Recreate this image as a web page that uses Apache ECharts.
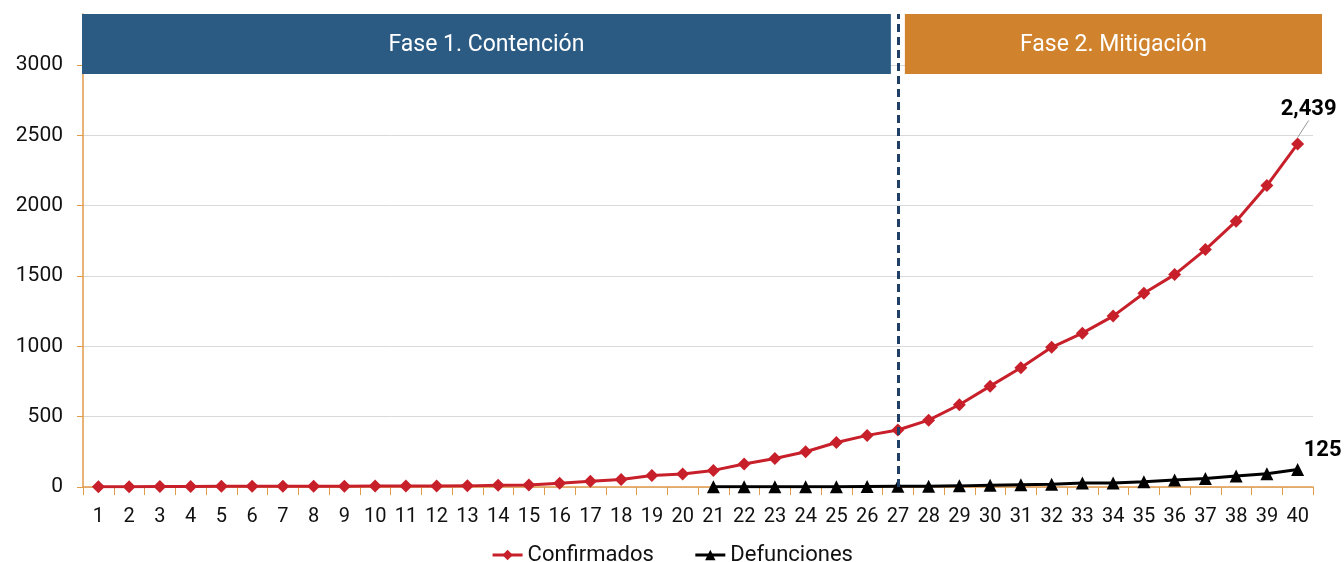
<!DOCTYPE html>
<html>
<head>
<meta charset="utf-8">
<script src="https://cdn.jsdelivr.net/npm/echarts@6/dist/echarts.min.js"></script>
<style>
  html, body { margin: 0; padding: 0; background: #fff; }
  #main { width: 1344px; height: 562px; }
</style>
</head>
<body>
<div id="main"></div>
<script>
var chartDom = document.getElementById('main');
var myChart = echarts.init(chartDom);

const days = [];
for (let d = 1; d <= 40; d++) days.push(String(d));

const confirmados = [1, 2, 4, 4, 5, 5, 5, 5, 6, 7, 7, 7, 8, 12, 15, 26, 41, 53, 82, 93,
  118, 164, 203, 251, 316, 367, 405, 475, 585, 717, 848, 993, 1094, 1215, 1378, 1510, 1688, 1890, 2143, 2439];
const defunciones = ['-', '-', '-', '-', '-', '-', '-', '-', '-', '-', '-', '-', '-', '-', '-', '-', '-', '-', '-', '-',
  1, 1, 2, 2, 2, 4, 5, 6, 8, 12, 16, 20, 28, 29, 37, 50, 60, 79, 94, 125];

const yTicks = [0, 500, 1000, 1500, 2000, 2500, 3000];
const phases = ['Fase 1. Contención', 'Fase 2. Mitigación'];
const phaseSplit = '27';

const redColor = '#C8202A';
const axisColor = '#E29A4B';
const FONT = 'Roboto, "DejaVu Sans", sans-serif';

function withLastLabel(values, label) {
  return values.map((v, i) => {
    if (i !== values.length - 1) return v;
    return { value: v, label: label };
  });
}

var option = {
  animation: false,
  textStyle: { fontFamily: FONT },
  grid: { left: 83, right: 31, top: 14, bottom: 75 },
  legend: {
    top: 539,
    left: 'center',
    itemWidth: 30,
    itemHeight: 13,
    itemGap: 40,
    lineStyle: { width: 3 },
    textStyle: { fontSize: 22, color: '#111', fontFamily: FONT },
    data: ['Confirmados', 'Defunciones']
  },
  xAxis: {
    type: 'category',
    data: days,
    axisLine: { lineStyle: { color: axisColor, width: 1.5 } },
    axisTick: { show: true, length: 8, lineStyle: { color: axisColor } },
    axisLabel: { fontSize: 20, color: '#111', margin: 20, interval: 0, fontFamily: FONT },
    splitLine: { show: false }
  },
  yAxis: {
    type: 'value',
    min: 0,
    max: 3363,
    interval: 500,
    axisLine: { show: true, lineStyle: { color: axisColor, width: 1.5 } },
    axisTick: { show: true, length: 6, customValues: yTicks, lineStyle: { color: axisColor } },
    axisLabel: {
      fontSize: 21, color: '#111', margin: 20, fontFamily: FONT,
      customValues: yTicks,
      formatter: v => String(v)
    },
    splitLine: { lineStyle: { color: '#D9D9D9', width: 1 } }
  },
  series: [
    {
      name: 'Confirmados',
      type: 'line',
      data: withLastLabel(confirmados, {
        show: true, position: 'top', distance: 17, offset: [11, 0],
        fontSize: 22, fontWeight: 'bold', color: '#000', fontFamily: FONT,
        formatter: p => p.value.toLocaleString('en-US')
      }),
      symbol: 'diamond',
      symbolSize: 13,
      itemStyle: { color: redColor },
      lineStyle: { color: redColor, width: 3 },
      labelLine: { show: true, lineStyle: { color: '#999', width: 1 } },
      z: 3,
      markLine: {
        silent: true,
        symbol: 'none',
        label: { show: false },
        lineStyle: { color: '#1F3F66', type: [8, 5], width: 3 },
        data: [{ xAxis: phaseSplit }]
      }
    },
    {
      name: 'Defunciones',
      type: 'line',
      data: withLastLabel(defunciones, {
        show: true, position: 'top', distance: 1, offset: [25, 0],
        fontSize: 22, fontWeight: 'bold', color: '#000', fontFamily: FONT
      }),
      symbol: 'triangle',
      symbolSize: 13,
      itemStyle: { color: '#000' },
      lineStyle: { color: '#000', width: 3 },
      z: 4
    }
  ]
};

myChart.setOption(option);

// phase banners, placed from the axis scale
function drawBanners() {
  const splitX = myChart.convertToPixel({ xAxisIndex: 0 }, phaseSplit);
  const leftX = myChart.convertToPixel({ xAxisIndex: 0 }, days[0]);
  const rightX = myChart.convertToPixel({ xAxisIndex: 0 }, days[days.length - 1]);
  const half = (rightX - leftX) / (days.length - 1) / 2;
  const top = 14, h = 60, gap = 7;
  const x0 = leftX - half - 1;
  const x1 = splitX - gap;
  const x2 = splitX + gap;
  const x3 = rightX + half + 9;
  myChart.setOption({
    graphic: [
      {
        type: 'rect', z: 10,
        shape: { x: x0, y: top, width: x1 - x0, height: h },
        style: { fill: '#2B5B83' }
      },
      {
        type: 'text', z: 11,
        x: (x0 + x1) / 2, y: top + h / 2 + 1,
        style: { text: phases[0], fill: '#fff', fontSize: 23, fontFamily: FONT, align: 'center', verticalAlign: 'middle' }
      },
      {
        type: 'rect', z: 10,
        shape: { x: x2, y: top, width: x3 - x2, height: h },
        style: { fill: '#D0832C' }
      },
      {
        type: 'text', z: 11,
        x: (x2 + x3) / 2, y: top + h / 2 + 1,
        style: { text: phases[1], fill: '#fff', fontSize: 23, fontFamily: FONT, align: 'center', verticalAlign: 'middle' }
      }
    ]
  });
}
drawBanners();
</script>
</body>
</html>
